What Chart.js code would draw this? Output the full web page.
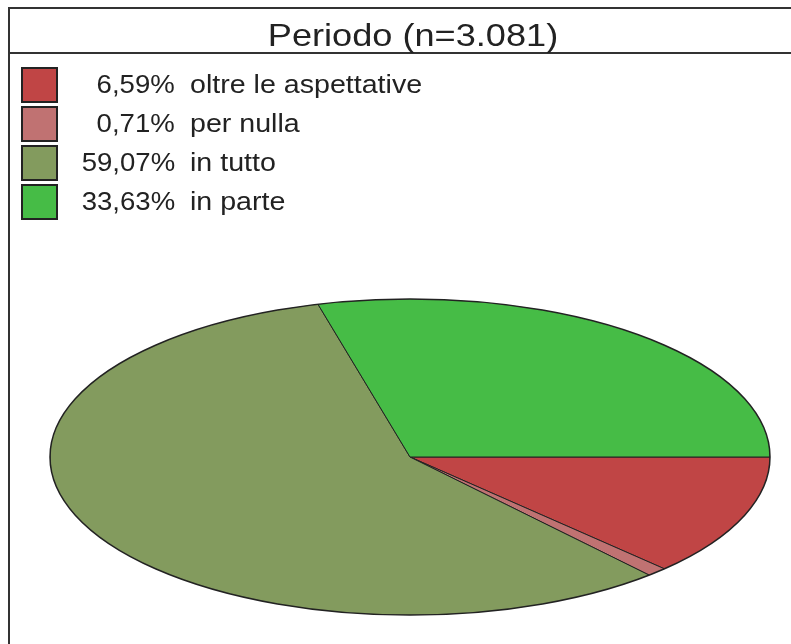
<!DOCTYPE html>
<html>
<head>
<meta charset="utf-8">
<script src="https://cdn.jsdelivr.net/npm/chart.js@4/dist/chart.umd.min.js"></script>
<style>
  html, body { margin: 0; padding: 0; background: #fff; }
  body { width: 791px; height: 644px; overflow: hidden; position: relative; font-family: "Liberation Sans", Arial, sans-serif; }
  #pie { position: absolute; left: 0; top: 0; }
  #frame { position: absolute; left: 8px; top: 7px; width: 900px; height: 700px;
           border-left: 2px solid #333; border-top: 2px solid #333; pointer-events: none; }
  #title { position: absolute; left: 0; top: 0; width: 806px; height: 43px; border-bottom: 2px solid #333; }
  #title span { position: absolute; left: 403px; top: 8px; font-size: 32px; line-height: 36px; color: #222; white-space: nowrap;
                transform: translateX(-50%) scaleX(1.13); }
  #legend { position: absolute; left: 11px; top: 57px; }
  .row { position: relative; height: 39px; }
  .box { position: absolute; left: 0; top: 1px; width: 33px; height: 32px; border: 2px solid #222; }
  .pct { position: absolute; right: calc(100% - 154px); top: 3px; font-size: 26px; color: #222; white-space: nowrap;
         transform: scaleX(1.06); transform-origin: right center; }
  .lbl { position: absolute; left: 169px; top: 3px; font-size: 26px; color: #222; white-space: nowrap;
         transform: scaleX(1.1); transform-origin: left center; }
</style>
</head>
<body>
<canvas id="pie" width="791" height="644"></canvas>
<div id="frame">
  <div id="title"><span id="titleText"></span></div>
  <div id="legend"></div>
</div>
<script>
// DATA
const chartTitle = 'Periodo (n=3.081)';
const categories = ['oltre le aspettative', 'per nulla', 'in tutto', 'in parte'];
const percentages = [6.59, 0.71, 59.07, 33.63];
const sliceColors = ['#C04545', '#C07272', '#839B5E', '#46BC46'];

document.getElementById('titleText').textContent = chartTitle;

// LEGEND (html, built from the arrays)
const legend = document.getElementById('legend');
categories.forEach((cat, i) => {
  const row = document.createElement('div');
  row.className = 'row';
  row.innerHTML =
    '<div class="box" style="background:' + sliceColors[i] + '"></div>' +
    '<span class="pct">' + percentages[i].toFixed(2).replace('.', ',') + '%</span>' +
    '<span class="lbl">' + cat + '</span>';
  legend.appendChild(row);
});

// ELLIPSE CLIP: slices keep their true angles, the disc is cut to an oval
const ELLIPSE_RY = 158;
const ellipseClip = {
  id: 'ellipseClip',
  beforeDatasetsDraw(chart) {
    const arc = chart.getDatasetMeta(0).data[0];
    const ctx = chart.ctx;
    ctx.save();
    ctx.beginPath();
    ctx.ellipse(arc.x, arc.y, arc.outerRadius, ELLIPSE_RY, 0, 0, Math.PI * 2);
    ctx.clip();
  },
  afterDatasetsDraw(chart) {
    const arc = chart.getDatasetMeta(0).data[0];
    const ctx = chart.ctx;
    ctx.restore();
    ctx.save();
    ctx.beginPath();
    ctx.ellipse(arc.x, arc.y, arc.outerRadius, ELLIPSE_RY, 0, 0, Math.PI * 2);
    ctx.lineWidth = 1.5;
    ctx.strokeStyle = '#222';
    ctx.stroke();
    ctx.restore();
  }
};

new Chart(document.getElementById('pie'), {
  type: 'pie',
  data: {
    labels: categories,
    datasets: [{
      data: percentages,
      backgroundColor: sliceColors,
      borderColor: '#222',
      borderWidth: 1,
      radius: 360
    }]
  },
  options: {
    responsive: false,
    animation: false,
    rotation: 90,
    layout: { padding: { left: 29, right: 0, top: 270, bottom: 0 } },
    plugins: {
      legend: { display: false },
      title: { display: false },
      tooltip: { enabled: false }
    },
    events: []
  },
  plugins: [ellipseClip]
});
</script>
</body>
</html>
